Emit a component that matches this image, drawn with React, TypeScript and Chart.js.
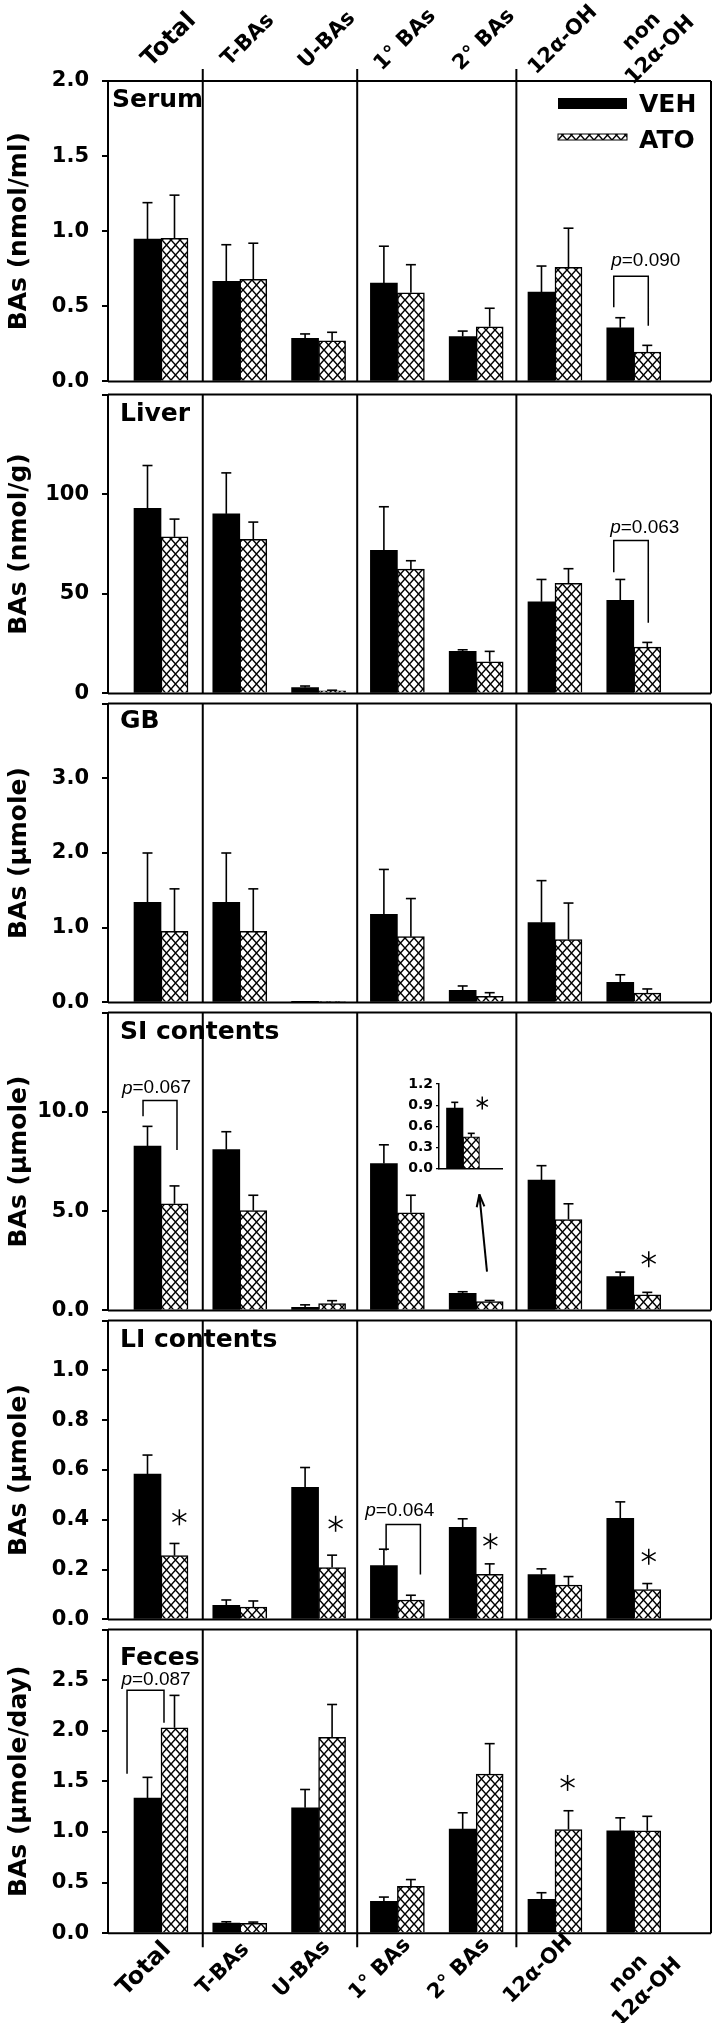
import React, { useEffect, useRef, useState } from 'react';
import { Chart, registerables } from 'chart.js';

Chart.register(...registerables);

// ---------------- data ----------------
const CATEGORIES: (string | string[])[] = ['Total', 'T-BAs', 'U-BAs', '1° BAs', '2° BAs', '12α-OH', ['non', '12α-OH']];
const SERIES = ['VEH', 'ATO'];

const PANEL_NAMES = ['Serum', 'Liver', 'GB', 'SI contents', 'LI contents', 'Feces'];
const Y_TITLES = ['BAs (nmol/ml)', 'BAs (nmol/g)', 'BAs (μmole)', 'BAs (μmole)', 'BAs (μmole)', 'BAs (μmole/day)'];
const Y_MAX = [2, 150, 4, 15, 1.2, 3];
const Y_STEP = [0.5, 50, 1, 5, 0.2, 0.5];
const Y_DECIMALS = [1, 0, 1, 1, 1, 1];

const SERUM_VEH = [0.948, 0.667, 0.286, 0.654, 0.299, 0.595, 0.357];
const SERUM_VEH_SEM = [0.242, 0.243, 0.03, 0.246, 0.036, 0.173, 0.067];
const SERUM_ATO = [0.952, 0.68, 0.27, 0.59, 0.364, 0.76, 0.195];
const SERUM_ATO_SEM = [0.288, 0.24, 0.057, 0.187, 0.123, 0.26, 0.045];

const LIVER_VEH = [92.9, 90.1, 2.9, 71.8, 21.1, 46.0, 46.7];
const LIVER_VEH_SEM = [21.5, 20.6, 0.8, 21.9, 0.8, 11.2, 10.5];
const LIVER_ATO = [78.6, 77.3, 1.3, 62.4, 15.9, 55.3, 23.2];
const LIVER_ATO_SEM = [8.9, 8.7, 0.3, 4.2, 5.2, 7.3, 2.4];

const GB_VEH = [1.34, 1.34, 0.005, 1.18, 0.16, 1.07, 0.27];
const GB_VEH_SEM = [0.66, 0.66, 0, 0.6, 0.06, 0.56, 0.1];
const GB_ATO = [0.95, 0.95, 0.01, 0.88, 0.08, 0.84, 0.125];
const GB_ATO_SEM = [0.57, 0.57, 0, 0.51, 0.05, 0.49, 0.055];

const SI_VEH = [8.28, 8.1, 0.16, 7.4, 0.86, 6.56, 1.7];
const SI_VEH_SEM = [0.99, 0.9, 0.12, 0.94, 0.08, 0.73, 0.23];
const SI_ATO = [5.37, 5.03, 0.34, 4.92, 0.45, 4.58, 0.78];
const SI_ATO_SEM = [0.9, 0.77, 0.15, 0.88, 0.05, 0.79, 0.13];

const LI_VEH = [0.584, 0.057, 0.53, 0.216, 0.37, 0.18, 0.406];
const LI_VEH_SEM = [0.076, 0.021, 0.08, 0.066, 0.034, 0.023, 0.066];
const LI_ATO = [0.256, 0.049, 0.208, 0.078, 0.181, 0.138, 0.12];
const LI_ATO_SEM = [0.049, 0.025, 0.05, 0.019, 0.042, 0.034, 0.024];

const FECES_VEH = [1.336, 0.1, 1.24, 0.315, 1.03, 0.334, 1.012];
const FECES_VEH_SEM = [0.204, 0.013, 0.18, 0.042, 0.16, 0.066, 0.128];
const FECES_ATO = [2.03, 0.097, 1.935, 0.464, 1.573, 1.025, 1.012];
const FECES_ATO_SEM = [0.32, 0.013, 0.325, 0.066, 0.3, 0.185, 0.143];

const VEH_VALUES = [SERUM_VEH, LIVER_VEH, GB_VEH, SI_VEH, LI_VEH, FECES_VEH];
const VEH_SEMS = [SERUM_VEH_SEM, LIVER_VEH_SEM, GB_VEH_SEM, SI_VEH_SEM, LI_VEH_SEM, FECES_VEH_SEM];
const ATO_VALUES = [SERUM_ATO, LIVER_ATO, GB_ATO, SI_ATO, LI_ATO, FECES_ATO];
const ATO_SEMS = [SERUM_ATO_SEM, LIVER_ATO_SEM, GB_ATO_SEM, SI_ATO_SEM, LI_ATO_SEM, FECES_ATO_SEM];

// inset (SI contents, 2° BAs)
const INSET_INDEX = 4;
const INSET_MAX = 1.2;
const INSET_STEP = 0.3;

// annotations (in data units)
const BRACKETS = [
  { panel: 0, cat: 6, xl: -0.254, xr: 0.184, yl: 0.494, yt: 0.7, yr: 0.37, text: '0.090', tx: 0.152, ty: 0.805 },
  { panel: 1, cat: 6, xl: -0.254, xr: 0.184, yl: 60.8, yt: 76.8, yr: 35.5, text: '0.063', tx: 0.14, ty: 83.1 },
  { panel: 3, cat: 0, xl: -0.228, xr: 0.203, yl: 9.78, yt: 10.57, yr: 8.08, text: '0.067', tx: -0.057, ty: 11.19 },
  { panel: 4, cat: 3, xl: -0.143, xr: 0.292, yl: 0.277, yt: 0.381, yr: 0.18, text: '0.064', tx: 0.03, ty: 0.435 },
  { panel: 5, cat: 0, xl: -0.431, xr: 0.038, yl: 1.576, yt: 2.4, yr: 2.08, text: '0.087', tx: -0.063, ty: 2.5 },
];
const STARS = [
  { panel: 3, cat: 6, dx: 0.19, y: 2.58 },
  { panel: 4, cat: 0, dx: 0.233, y: 0.41 },
  { panel: 4, cat: 2, dx: 0.216, y: 0.384 },
  { panel: 4, cat: 4, dx: 0.18, y: 0.314 },
  { panel: 4, cat: 6, dx: 0.19, y: 0.252 },
  { panel: 5, cat: 5, dx: 0.16, y: 1.485 },
];
const ARROW = { panel: 3, cat: 4, x1: 0.137, y1: 1.95, x2: 0.04, y2: 5.84 };
const SEPARATORS = [0.53, 2.49, 4.51];

// ---------------- layout / style ----------------
const FONT = "'DejaVu Sans', Verdana, sans-serif";
const PFONT = "'Liberation Sans', Arial, sans-serif";
const TOP0 = 81;
const PH = 308.7;
const LEFT = 108;
const RIGHT = 711;
const X_MIN = -0.6726;
const X_MAX = 6.98;
const LABEL_POS = [[4, 25.7], [12, 26.3], [12, 24.6], [12, 26], [12, 26], [12, 35.5]];

const GEOMS = PANEL_NAMES.map((_, k) => {
  const top = TOP0 + k * PH;
  const bottom = top + PH;
  if (k === 0) {
    const cTop = 0;
    const cH = Math.ceil(bottom) + 17;
    return { cTop, cH, padTop: top, padBottom: cH - bottom };
  }
  const cTop = Math.floor(top) - 20;
  if (k === PANEL_NAMES.length - 1) {
    const cH = 2023 - cTop;
    return { cTop, cH, padTop: top - cTop, padBottom: cTop + cH - bottom };
  }
  const cH = Math.ceil(bottom) + 20 - cTop;
  return { cTop, cH, padTop: top - cTop, padBottom: cTop + cH - bottom };
});

function makeHatch(): CanvasPattern | string {
  const w = 9;
  const h = 10;
  const c = document.createElement('canvas');
  c.width = w;
  c.height = h;
  const g = c.getContext('2d');
  if (!g) return '#fff';
  g.fillStyle = '#fff';
  g.fillRect(0, 0, w, h);
  g.strokeStyle = '#000';
  g.lineWidth = 1.5;
  g.beginPath();
  g.moveTo(-2, (-2 * h) / w);
  g.lineTo(w + 2, h + (2 * h) / w);
  g.moveTo(w + 2, (-2 * h) / w);
  g.lineTo(-2, h + (2 * h) / w);
  g.stroke();
  return g.createPattern(c, 'repeat') || '#fff';
}

function line(ctx: CanvasRenderingContext2D, x1: number, y1: number, x2: number, y2: number) {
  ctx.beginPath();
  ctx.moveTo(x1, y1);
  ctx.lineTo(x2, y2);
  ctx.stroke();
}

function drawStar(ctx: CanvasRenderingContext2D, x: number, y: number, r: number) {
  ctx.save();
  ctx.lineWidth = 1.5;
  ctx.strokeStyle = '#000';
  [90, 30, 150].forEach((deg) => {
    const a = (deg * Math.PI) / 180;
    line(ctx, x - r * Math.cos(a), y - r * Math.sin(a), x + r * Math.cos(a), y + r * Math.sin(a));
  });
  ctx.restore();
}

function drawPText(ctx: CanvasRenderingContext2D, cx: number, cy: number, text: string) {
  ctx.save();
  ctx.fillStyle = '#000';
  ctx.textBaseline = 'middle';
  ctx.textAlign = 'left';
  ctx.font = `italic 19px ${PFONT}`;
  const w1 = ctx.measureText('p').width;
  ctx.font = `19px ${PFONT}`;
  const w2 = ctx.measureText('=' + text).width;
  const sx = cx - (w1 + w2) / 2;
  ctx.font = `italic 19px ${PFONT}`;
  ctx.fillText('p', sx, cy);
  ctx.font = `19px ${PFONT}`;
  ctx.fillText('=' + text, sx + w1, cy);
  ctx.restore();
}

function errorBars(chart: any, values: number[][], sems: number[][], cap: number) {
  const ctx: CanvasRenderingContext2D = chart.ctx;
  const ys = chart.scales.y;
  ctx.save();
  ctx.strokeStyle = '#000';
  ctx.lineWidth = 1.6;
  values.forEach((vals, di) => {
    const meta = chart.getDatasetMeta(di);
    meta.data.forEach((bar: any, i: number) => {
      const s = sems[di][i];
      if (!s) return;
      const yTop = ys.getPixelForValue(vals[i] + s);
      line(ctx, bar.x, bar.y, bar.x, yTop);
      line(ctx, bar.x - cap, yTop, bar.x + cap, yTop);
    });
  });
  ctx.restore();
}

function panelPlugin(k: number, hatch: CanvasPattern | string) {
  const last = PANEL_NAMES.length - 1;
  return {
    id: 'panelDecor' + k,
    afterDatasetsDraw(chart: any) {
      const ctx: CanvasRenderingContext2D = chart.ctx;
      const { left, right, top, bottom } = chart.chartArea;
      const xs = chart.scales.x;
      const ys = chart.scales.y;
      errorBars(chart, [VEH_VALUES[k], ATO_VALUES[k]], [VEH_SEMS[k], ATO_SEMS[k]], 5);

      ctx.save();
      ctx.strokeStyle = '#000';
      ctx.lineWidth = 2;
      line(ctx, left, top, right, top);
      line(ctx, right, top, right, bottom);
      line(ctx, left, bottom, right, bottom);
      SEPARATORS.forEach((v) => {
        const x = xs.getPixelForValue(v);
        line(ctx, x, k === 0 ? top - 12 : top, x, k === last ? bottom + 14 : bottom);
      });
      ctx.fillStyle = '#000';
      ctx.font = `bold 25px ${FONT}`;
      ctx.textAlign = 'left';
      ctx.textBaseline = 'alphabetic';
      ctx.fillText(PANEL_NAMES[k], left + LABEL_POS[k][0], top + LABEL_POS[k][1]);

      ctx.lineWidth = 1.5;
      BRACKETS.filter((b) => b.panel === k).forEach((b) => {
        const xl = xs.getPixelForValue(b.cat + b.xl);
        const xr = xs.getPixelForValue(b.cat + b.xr);
        ctx.beginPath();
        ctx.moveTo(xl, ys.getPixelForValue(b.yl));
        ctx.lineTo(xl, ys.getPixelForValue(b.yt));
        ctx.lineTo(xr, ys.getPixelForValue(b.yt));
        ctx.lineTo(xr, ys.getPixelForValue(b.yr));
        ctx.stroke();
        drawPText(ctx, xs.getPixelForValue(b.cat + b.tx), ys.getPixelForValue(b.ty), b.text);
      });
      STARS.filter((s) => s.panel === k).forEach((s) => {
        drawStar(ctx, xs.getPixelForValue(s.cat + s.dx), ys.getPixelForValue(s.y), 8);
      });
      if (ARROW.panel === k) {
        const x1 = xs.getPixelForValue(ARROW.cat + ARROW.x1);
        const y1 = ys.getPixelForValue(ARROW.y1);
        const x2 = xs.getPixelForValue(ARROW.cat + ARROW.x2);
        const y2 = ys.getPixelForValue(ARROW.y2);
        ctx.lineWidth = 2;
        line(ctx, x1, y1, x2, y2);
        const ang = Math.atan2(y1 - y2, x1 - x2);
        const hl = 13;
        [-0.3, 0.3].forEach((d) => {
          line(ctx, x2, y2, x2 + hl * Math.cos(ang + d), y2 + hl * Math.sin(ang + d));
        });
      }
      if (k === 0) {
        const lx = right - 153;
        ctx.fillStyle = '#000';
        ctx.fillRect(lx, top + 17, 69, 11);
        ctx.fillStyle = hatch as any;
        ctx.fillRect(lx, top + 53, 69, 6);
        ctx.lineWidth = 1;
        ctx.strokeRect(lx, top + 53, 69, 6);
        ctx.fillStyle = '#000';
        ctx.font = `bold 25px ${FONT}`;
        ctx.textBaseline = 'alphabetic';
        ctx.textAlign = 'left';
        ctx.fillText(SERIES[0], right - 72, top + 31);
        ctx.fillText(SERIES[1], right - 72, top + 67);
      }
      ctx.restore();
    },
  };
}

function fmt(v: number, dec: number) {
  return dec === 0 ? String(Math.round(v)) : v.toFixed(dec);
}

type LabelPos = { x: number; y: number; i: number };

export default function App() {
  const refs = useRef<(HTMLCanvasElement | null)[]>([]);
  const insetRef = useRef<HTMLCanvasElement | null>(null);
  const [catPos, setCatPos] = useState<{ top: LabelPos[]; bottom: LabelPos[] }>({ top: [], bottom: [] });

  useEffect(() => {
    const hatch = makeHatch();
    const charts: Chart[] = [];
    PANEL_NAMES.forEach((name, k) => {
      const cv = refs.current[k];
      if (!cv) return;
      const g = GEOMS[k];
      const isTop = k === 0;
      const ymax = Y_MAX[k];
      const chart = new Chart(cv, {
        type: 'bar',
        data: {
          datasets: [
            {
              label: SERIES[0],
              data: VEH_VALUES[k].map((v, i) => ({ x: i, y: v })),
              backgroundColor: '#000',
              borderColor: '#000',
              borderWidth: 0,
              barThickness: 27,
            },
            {
              label: SERIES[1],
              data: ATO_VALUES[k].map((v, i) => ({ x: i, y: v })),
              backgroundColor: hatch as any,
              borderColor: '#000',
              borderWidth: 1.5,
              barThickness: 27,
            },
          ],
        } as any,
        options: {
          responsive: false,
          animation: false,
          devicePixelRatio: 1,
          layout: { padding: { left: 0, right: 716 - RIGHT, top: g.padTop, bottom: g.padBottom } },
          plugins: { legend: { display: false }, tooltip: { enabled: false } },
          scales: {
            x: { type: 'linear', display: false, min: X_MIN, max: X_MAX, offset: false },
            y: {
              min: 0,
              max: ymax,
              afterFit: (s: any) => {
                s.width = LEFT;
              },
              ticks: {
                stepSize: Y_STEP[k],
                color: '#000',
                padding: 13,
                font: { family: FONT, size: 21, weight: 'bold' },
                callback: (v: any) => (!isTop && Math.abs(v - ymax) < 1e-9 ? '' : fmt(Number(v), Y_DECIMALS[k])),
              },
              grid: { drawOnChartArea: false, drawTicks: true, tickLength: 6, color: '#000', lineWidth: 2 },
              border: { display: true, color: '#000', width: 2 },
              title: {
                display: true,
                text: Y_TITLES[k],
                color: '#000',
                font: { family: FONT, size: 25, weight: 'bold' },
                padding: { top: 4, bottom: 0 },
              },
            },
          },
        } as any,
        plugins: [panelPlugin(k, hatch)],
      });
      charts.push(chart);
    });

    // category label positions from the x scales of the first and last panel
    const first = charts[0] as any;
    const lastC = charts[PANEL_NAMES.length - 1] as any;
    if (first && lastC) {
      const gT = GEOMS[0];
      const gB = GEOMS[PANEL_NAMES.length - 1];
      const top: LabelPos[] = CATEGORIES.map((lab, i) => {
        const multi = Array.isArray(lab);
        return {
          i,
          x: first.scales.x.getPixelForValue(i) + (multi ? 16 : 7),
          y: gT.cTop + first.chartArea.top - (multi ? 41 : 42),
        };
      });
      const bottom: LabelPos[] = CATEGORIES.map((lab, i) => {
        const multi = Array.isArray(lab);
        return {
          i,
          x: lastC.scales.x.getPixelForValue(i) + (multi ? 3 : -18),
          y: gB.cTop + lastC.chartArea.bottom + (multi ? 49 : 35),
        };
      });
      setCatPos({ top, bottom });
    }

    if (insetRef.current) {
      const si = { veh: SI_VEH[INSET_INDEX], ato: SI_ATO[INSET_INDEX], vs: SI_VEH_SEM[INSET_INDEX], as: SI_ATO_SEM[INSET_INDEX] };
      const inset = new Chart(insetRef.current, {
        type: 'bar',
        data: {
          datasets: [
            { label: SERIES[0], data: [{ x: 0, y: si.veh }], backgroundColor: '#000', borderWidth: 0, barThickness: 16.5 },
            { label: SERIES[1], data: [{ x: 0, y: si.ato }], backgroundColor: hatch as any, borderColor: '#000', borderWidth: 1.2, barThickness: 16.5 },
          ],
        } as any,
        options: {
          responsive: false,
          animation: false,
          devicePixelRatio: 1,
          layout: { padding: { left: 0, right: 8, top: 14, bottom: 11 } },
          plugins: { legend: { display: false }, tooltip: { enabled: false } },
          scales: {
            x: {
              type: 'linear',
              min: -0.381,
              max: 0.619,
              offset: false,
              grid: { display: false, drawTicks: false },
              border: { display: true, color: '#000', width: 1.5 },
              ticks: { display: false },
            },
            y: {
              min: 0,
              max: INSET_MAX,
              afterFit: (s: any) => {
                s.width = 44;
              },
              ticks: {
                stepSize: INSET_STEP,
                color: '#000',
                padding: 3,
                font: { family: FONT, size: 14, weight: 'bold' },
                callback: (v: any) => Number(v).toFixed(1),
              },
              grid: { drawOnChartArea: false, drawTicks: true, tickLength: 3, color: '#000', lineWidth: 1.2 },
              border: { display: true, color: '#000', width: 1.5 },
            },
          },
        } as any,
        plugins: [
          {
            id: 'insetDecor',
            afterDatasetsDraw(chart: any) {
              errorBars(chart, [[si.veh], [si.ato]], [[si.vs], [si.as]], 3.5);
              const bar = chart.getDatasetMeta(1).data[0];
              drawStar(chart.ctx, bar.x + 11, chart.scales.y.getPixelForValue(0.93), 6.5);
            },
          },
        ],
      });
      charts.push(inset);
    }

    return () => {
      charts.forEach((c) => c.destroy());
    };
  }, []);

  const labelStyle = (p: LabelPos): React.CSSProperties => ({
    position: 'absolute',
    left: p.x,
    top: p.y,
    transform: 'translate(-50%, -50%) rotate(-45deg)',
    transformOrigin: '50% 50%',
    fontFamily: FONT,
    fontWeight: 'bold',
    fontSize: p.i === 0 ? 24 : 21,
    lineHeight: '26px',
    whiteSpace: 'nowrap',
    textAlign: 'center',
    color: '#000',
  });

  const renderLabel = (p: LabelPos, key: string) => {
    const lab = CATEGORIES[p.i];
    const lines = Array.isArray(lab) ? lab : [lab];
    return (
      <div key={key} style={labelStyle(p)}>
        {lines.map((t, j) => (
          <div key={j}>{t}</div>
        ))}
      </div>
    );
  };

  return (
    <div style={{ position: 'absolute', left: 0, top: 0, width: 716, height: 2023, background: '#fff', overflow: 'hidden' }}>
      {GEOMS.map((g, i) => (
        <canvas
          key={i}
          ref={(el) => {
            refs.current[i] = el;
          }}
          width={716}
          height={g.cH}
          style={{ position: 'absolute', left: 0, top: g.cTop, width: 716, height: g.cH }}
        />
      ))}
      <canvas
        ref={insetRef}
        width={115}
        height={110}
        style={{ position: 'absolute', left: 395, top: 1070, width: 115, height: 110 }}
      />
      {catPos.top.map((p) => renderLabel(p, 't' + p.i))}
      {catPos.bottom.map((p) => renderLabel(p, 'b' + p.i))}
    </div>
  );
}
